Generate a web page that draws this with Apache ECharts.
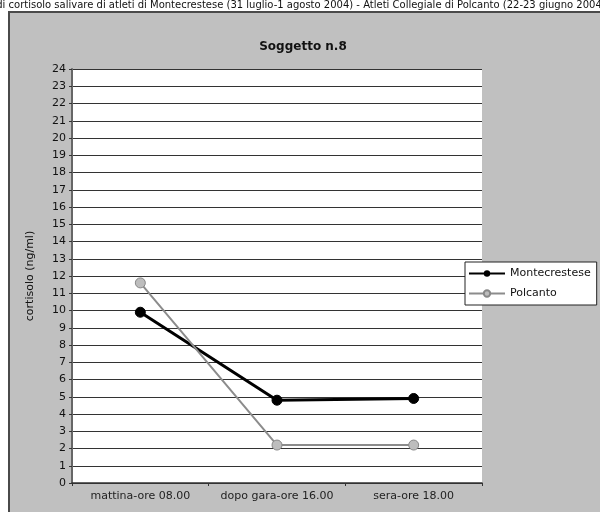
<!DOCTYPE html>
<html><head><meta charset="utf-8">
<script src="https://cdn.jsdelivr.net/npm/echarts@6/dist/echarts.min.js"></script>
<style>html,body{margin:0;padding:0;background:#fff}#c{width:600px;height:512px}</style>
</head><body><div id="c"></div>
<script>
const categories = ['mattina-ore 08.00', 'dopo gara-ore 16.00', 'sera-ore 18.00'];
const montecrestese = [9.9, 4.8, 4.9];
const polcanto = [11.6, 2.2, 2.2];
const yTicks = {min: 0, max: 24, interval: 1};
const topTextA = 'Livelli di cortisolo salivare di atleti di ';
const topTextB = 'Montecrestese (31 luglio-1 agosto 2004) - Atleti Collegiale di Polcanto (22-23 giugno 2004)';
const chartTitle = 'Soggetto n.8';
const yName = 'cortisolo (ng/ml)';

const FONT = '"DejaVu Sans", "Liberation Sans", Arial, sans-serif';
const chart = echarts.init(document.getElementById('c'));
chart.setOption({
  backgroundColor: '#fff',
  animation: false,
  textStyle: {fontFamily: FONT},
  graphic: [
    {type: 'rect', z: -100, shape: {x: 9, y: 12, width: 640, height: 540}, style: {fill: '#c0c0c0', stroke: '#4a4a4a', lineWidth: 2}},
    {type: 'text', z: 10, x: 150, y: 0, style: {text: topTextA, font: '10px ' + FONT, fill: '#111', textAlign: 'right'}},
    {type: 'text', z: 10, x: 150, y: 0, style: {text: topTextB, font: '10px ' + FONT, fill: '#111', textAlign: 'left'}}
  ],
  title: {text: chartTitle, left: 298, textAlign: 'center', top: 36,
    textStyle: {fontFamily: FONT, fontSize: 12, fontWeight: 'bold', color: '#111'}},
  legend: {
    left: 465, top: 262, orient: 'vertical', width: 128,
    backgroundColor: '#fff', borderColor: '#222', borderWidth: 1, borderRadius: 0,
    padding: [6, 6, 6, 3], itemGap: 9, itemWidth: 36, itemHeight: 8,
    textStyle: {fontFamily: FONT, fontSize: 11, color: '#111'},
    data: ['Montecrestese', 'Polcanto']
  },
  grid: {left: 72, right: 118, top: 69, bottom: 29, show: true, backgroundColor: '#fff', borderWidth: 0},
  xAxis: {
    type: 'category', data: categories, boundaryGap: true,
    axisLine: {lineStyle: {color: '#333', width: 1.5}},
    axisTick: {show: true, length: 3, lineStyle: {color: '#333'}},
    axisLabel: {interval: 0, fontSize: 11, color: '#222', margin: 8, fontFamily: FONT},
    splitLine: {show: false}
  },
  yAxis: {
    type: 'value', min: yTicks.min, max: yTicks.max, interval: yTicks.interval,
    name: yName, nameLocation: 'middle', nameGap: 36, nameRotate: 90,
    nameTextStyle: {fontSize: 11, color: '#111', fontFamily: FONT},
    axisLine: {show: true, lineStyle: {color: '#666', width: 2}},
    axisTick: {show: true, length: 3, lineStyle: {color: '#333'}},
    axisLabel: {fontSize: 11, color: '#111', margin: 6, fontFamily: FONT},
    splitLine: {show: true, lineStyle: {color: '#333', width: 1}}
  },
  series: [
    {name: 'Montecrestese', type: 'line', data: montecrestese,
      symbol: 'circle', symbolSize: 10,
      lineStyle: {color: '#000', width: 3},
      itemStyle: {color: '#000', borderColor: '#000'}},
    {name: 'Polcanto', type: 'line', data: polcanto,
      symbol: 'circle', symbolSize: 10,
      lineStyle: {color: '#8c8c8c', width: 2},
      itemStyle: {color: '#bdbdbd', borderColor: '#888', borderWidth: 1}}
  ]
});
</script></body></html>
